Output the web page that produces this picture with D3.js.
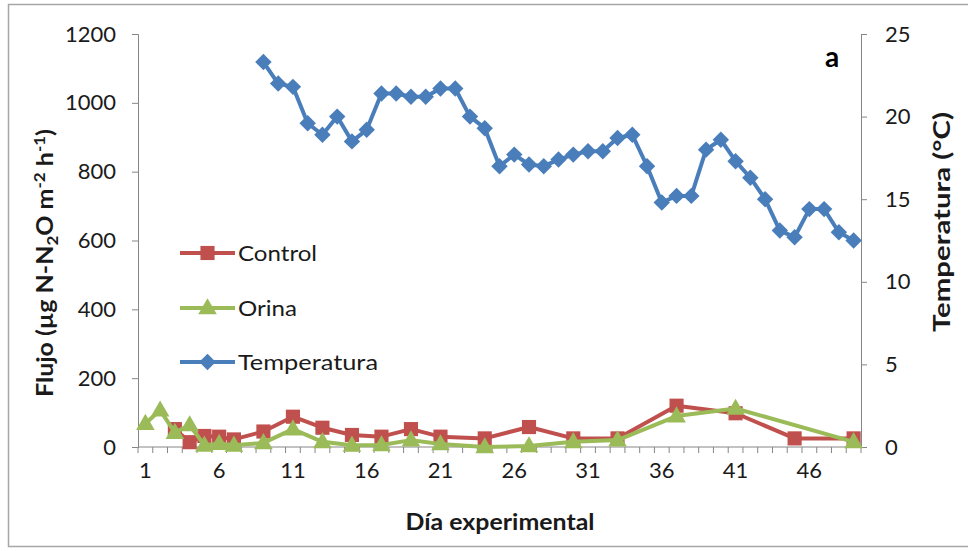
<!DOCTYPE html>
<html>
<head>
<meta charset="utf-8">
<script src="https://cdn.jsdelivr.net/npm/d3@7/dist/d3.min.js"></script>
<style>
  html, body { margin: 0; padding: 0; background: #ffffff; }
  svg { display: block; font-family: Lato, "Open Sans", sans-serif; }
</style>
</head>
<body>
<svg id="chart" width="968" height="551"></svg>
<script>
// ---------- data ----------
const days = [1,2,3,4,5,6,7,8,9,10,11,12,13,14,15,16,17,18,19,20,21,22,23,24,25,26,27,28,29,30,31,32,33,34,35,36,37,38,39,40,41,42,43,44,45,46,47,48,49];
const xTickLabels = [1,6,11,16,21,26,31,36,41,46];
const leftTicks = [0,200,400,600,800,1000,1200];
const rightTicks = [0,5,10,15,20,25];

const controlDays   = [3,4,5,6,7,9,11,13,15,17,19,21,24,27,30,33,37,41,45,49];
const controlValues = [52,14,32,30,22,45,88,56,35,30,52,30,25,58,25,25,120,98,25,25];

const orinaDays   = [1,2,3,4,5,6,7,9,11,13,15,17,19,21,24,27,30,33,37,41,49];
const orinaValues = [68,107,42,64,5,10,5,12,52,15,5,6,20,9,0,3,15,20,90,112,15];

const tempDays   = [9,10,11,12,13,14,15,16,17,18,19,20,21,22,23,24,25,26,27,28,29,30,31,32,33,34,35,36,37,38,39,40,41,42,43,44,45,46,47,48,49];
const tempValues = [23.3,22.0,21.8,19.6,18.9,20.0,18.5,19.2,21.4,21.4,21.2,21.2,21.7,21.7,20.0,19.3,17.0,17.7,17.1,17.0,17.4,17.7,17.9,17.9,18.7,18.9,17.0,14.8,15.2,15.2,18.0,18.6,17.3,16.3,15.0,13.1,12.7,14.4,14.4,13.0,12.5];

const seriesNames = ["Control","Orina","Temperatura"];
const colors = { Control: "#C0504D", Orina: "#9BBB59", Temperatura: "#4A7EBB" };

// ---------- layout ----------
const svg = d3.select("#chart");
const plot = { left: 138, right: 861, top: 34, bottom: 447 };
const textColor = "#1a1a1a";

// frame
svg.append("rect").attr("x", 8.5).attr("y", 4.5).attr("width", 980).attr("height", 542)
  .attr("fill", "none").attr("stroke", "#A6A6A6").attr("stroke-width", 1.5);

const x = d3.scaleBand().domain(days).range([plot.left, plot.right]).paddingInner(0).paddingOuter(0);
const cx = d => x(d) + x.bandwidth() / 2;
const yL = d3.scaleLinear().domain([0, 1200]).range([plot.bottom, plot.top]);
const yR = d3.scaleLinear().domain([0, 25]).range([plot.bottom, plot.top]);

const axisColor = "#868686";
const tickFont = 22;

// left axis
const gL = svg.append("g").attr("transform", `translate(${plot.left},0)`)
  .call(d3.axisLeft(yL).tickValues(leftTicks).tickSize(6).tickPadding(16).tickFormat(d3.format("d")));
// right axis
const gR = svg.append("g").attr("transform", `translate(${plot.right},0)`)
  .call(d3.axisRight(yR).tickValues(rightTicks).tickSize(6).tickPadding(18).tickFormat(d3.format("d")));
// bottom axis: tick marks at category boundaries
const boundaries = d3.range(days.length + 1).map(i => plot.left + i * x.bandwidth());
const gB = svg.append("g");
gB.append("line").attr("x1", plot.left).attr("x2", plot.right).attr("y1", plot.bottom).attr("y2", plot.bottom)
  .attr("stroke", axisColor).attr("stroke-width", 1);
gB.selectAll("line.tk").data(boundaries).enter().append("line").attr("class", "tk")
  .attr("x1", d => d).attr("x2", d => d).attr("y1", plot.bottom).attr("y2", plot.bottom + 6)
  .attr("stroke", axisColor).attr("stroke-width", 1);
gB.selectAll("text").data(xTickLabels).enter().append("text")
  .attr("x", d => cx(d)).attr("y", plot.bottom + 31)
  .attr("text-anchor", "middle").attr("font-size", tickFont).attr("fill", textColor).text(d => d);

[gL, gR].forEach(g => {
  g.select(".domain").attr("stroke", axisColor).attr("stroke-width", 1);
  g.selectAll(".tick line").attr("stroke", axisColor);
  g.selectAll(".tick text").attr("font-size", tickFont).attr("fill", textColor).attr("font-family", "Lato, 'Open Sans', sans-serif");
});

// ---------- series ----------
function drawLine(daysArr, vals, scale, color) {
  const pts = daysArr.map((d, i) => [cx(d), scale(vals[i])]);
  svg.append("path").datum(pts).attr("fill", "none").attr("stroke", color).attr("stroke-width", 4)
    .attr("stroke-linejoin", "round").attr("d", d3.line());
  return pts;
}
const sq = d3.symbol().type(d3.symbolSquare).size(200);
const tri = d3.symbol().type(d3.symbolTriangle).size(150);
const dia = d3.symbol().type(d3.symbolSquare).size(135);

const cPts = drawLine(controlDays, controlValues, yL, colors.Control);
svg.append("g").selectAll("path").data(cPts).enter().append("path")
  .attr("d", sq).attr("transform", d => `translate(${d[0]},${d[1]})`).attr("fill", colors.Control);

const oPts = drawLine(orinaDays, orinaValues, yL, colors.Orina);
svg.append("g").selectAll("path").data(oPts).enter().append("path")
  .attr("d", tri).attr("transform", d => `translate(${d[0]},${d[1] + 1})`).attr("fill", colors.Orina);

const tPts = drawLine(tempDays, tempValues, yR, colors.Temperatura);
svg.append("g").selectAll("path").data(tPts).enter().append("path")
  .attr("d", dia).attr("transform", d => `translate(${d[0]},${d[1]}) rotate(45)`).attr("fill", colors.Temperatura);

// ---------- legend ----------
const legendY = [253, 308, 362];
const legendTextLen = [79, 59, 140];
const markers = [sq, tri, dia];
seriesNames.forEach((name, i) => {
  const g = svg.append("g").attr("transform", `translate(180,${legendY[i]})`);
  g.append("line").attr("x1", 0).attr("x2", 55).attr("y1", 0).attr("y2", 0)
    .attr("stroke", colors[name]).attr("stroke-width", 4);
  g.append("path").attr("d", markers[i])
    .attr("transform", i === 2 ? "translate(27.5,0) rotate(45)" : `translate(27.5,${i === 1 ? 1 : 0})`)
    .attr("fill", colors[name]);
  g.append("text").attr("x", 58).attr("y", 8).attr("font-size", 22).attr("fill", textColor)
    .attr("textLength", legendTextLen[i]).attr("lengthAdjust", "spacingAndGlyphs").text(name);
});

// ---------- titles ----------
svg.append("text").attr("x", 500).attr("y", 530).attr("text-anchor", "middle")
  .attr("font-size", 22).attr("font-weight", "bold").attr("fill", textColor)
  .attr("textLength", 189).attr("lengthAdjust", "spacingAndGlyphs").text("Día experimental");

const lt = svg.append("text").attr("transform", "translate(53,263) rotate(-90)").attr("text-anchor", "middle")
  .attr("font-size", 22).attr("font-weight", "bold").attr("fill", textColor)
  .attr("textLength", 268).attr("lengthAdjust", "spacingAndGlyphs");
lt.append("tspan").text("Flujo (µg N-N");
lt.append("tspan").attr("font-size", 15).attr("dy", 5).text("2");
lt.append("tspan").attr("dy", -5).text("O m");
lt.append("tspan").attr("font-size", 15).attr("dy", -8).text("-2");
lt.append("tspan").attr("dy", 8).text(" h");
lt.append("tspan").attr("font-size", 15).attr("dy", -8).text("-1");
lt.append("tspan").attr("dy", 8).text(")");

svg.append("text").attr("transform", "translate(950,222) rotate(-90)").attr("text-anchor", "middle")
  .attr("font-size", 22).attr("font-weight", "bold").attr("fill", textColor)
  .attr("textLength", 220).attr("lengthAdjust", "spacingAndGlyphs").text("Temperatura (°C)");

svg.append("text").attr("x", 832).attr("y", 67).attr("text-anchor", "middle")
  .attr("font-size", 28).attr("font-weight", "bold").attr("fill", "#000").text("a");
</script>
</body>
</html>
